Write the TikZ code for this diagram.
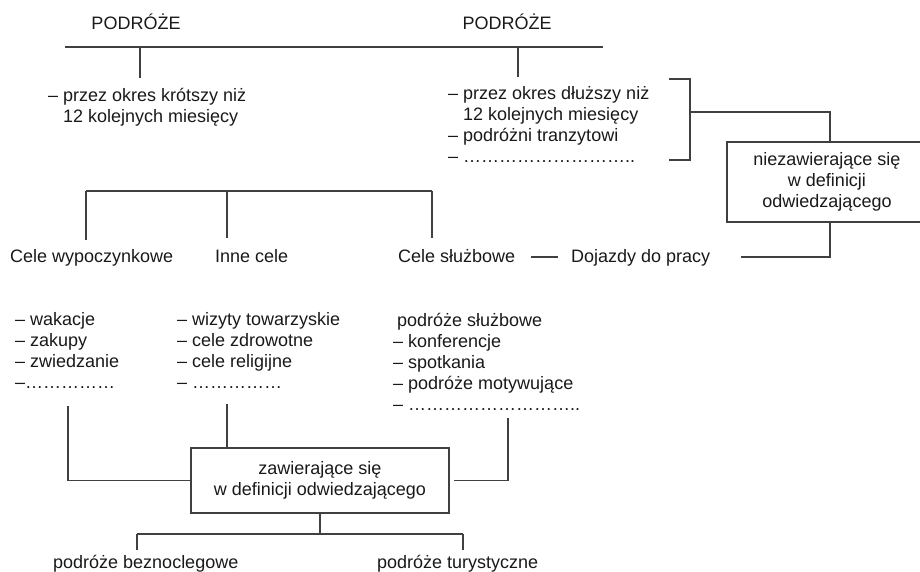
\documentclass[tikz,border=0pt]{standalone}
\usepackage{fontspec}
\setmainfont{Liberation Sans}
\begin{document}
\begin{tikzpicture}[x=1pt, y=-1pt]
                \tikzset{txt/.style={inner sep=0pt, text=black!90, font=\fontsize{18}{21}\selectfont}}
                \tikzset{lst/.style={txt, align=left, anchor=north west}}
                \tikzset{frame/.style={txt, draw=black!75, line width=1.1pt, align=center}}
                \tikzset{line/.style={draw=black!75, line width=1.1pt}}
                \useasboundingbox (0, 0) rectangle (920, 572);
                \node[txt] (podL) at (136, 22) {PODRÓŻE};
                \node[txt] (podR) at (507, 22) {PODRÓŻE};
                \coordinate (topA) at (65, 47);
                \coordinate (topB) at (603, 47);
                \coordinate (kL) at (140, 47);
                \coordinate (kR) at (518, 47);
                \node[lst] (krotszy) at (48, 88.5) {– przez okres krótszy niż\\\phantom{– }12 kolejnych miesięcy};
                \node[lst] (dluzszy) at (448, 86.5) {– przez okres dłuższy niż\\\phantom{– }12 kolejnych miesięcy\\– podróżni tranzytowi\\– ………………………..};
                \draw[line] (topA) -- (topB);
                \draw[line, shorten >=10pt] (kL) -- (kL |- krotszy.north);
                \draw[line, shorten >=9pt] (kR) -- (kR |- dluzszy.north);
                \coordinate (bT) at (669, 79);
                \coordinate (bB) at (669, 160);
                \coordinate (bM) at (690, 112);
                \draw[line] (bT) -| (bM) |- (bB);
                \node[frame, minimum width=210pt, minimum height=80pt] (nie) at (832, 182) {\hspace{-10pt}niezawierające się\\\hspace{-10pt}w definicji\\\hspace{-10pt}odwiedzającego};
                \draw[line] (bM) -| ([xshift=-2pt]nie.north);
                \coordinate (mA) at (86, 191);
                \coordinate (mB) at (227, 191);
                \coordinate (mC) at (432, 191);
                \node[txt, anchor=base west] (wyp) at (10, 262) {Cele wypoczynkowe};
                \node[txt, anchor=base west] (inne) at (215, 262) {Inne cele};
                \node[txt, anchor=base west] (sluz) at (398, 262) {Cele służbowe};
                \node[txt, anchor=base west] (doj) at (571, 262) {Dojazdy do pracy};
                \draw[line] (mA) -- (mC);
                \draw[line, shorten >=9pt] (mA) -- (mA |- wyp.north);
                \draw[line, shorten >=11pt] (mB) -- (mB |- inne.north);
                \draw[line, shorten >=11pt] (mC) -- (mC |- sluz.north);
                \draw[line, shorten <=16pt, shorten >=13pt] ([yshift=5pt]sluz.base east) -- ([yshift=5pt]doj.base west);
                \coordinate (dE) at (741, 257);
                \draw[line] ([xshift=-2pt]nie.south) |- (dE);
                \node[lst] (wypL) at (15, 312.5) {– wakacje\\– zakupy\\– zwiedzanie\\–……………};
                \node[lst] (inneL) at (177, 312.5) {– wizyty towarzyskie\\– cele zdrowotne\\– cele religijne\\– ……………};
                \node[lst] (sluzL) at (393, 313.5) {\hspace{4pt}podróże służbowe\\– konferencje\\– spotkania\\– podróże motywujące\\– ………………………..};
                \node[frame, minimum width=258pt, minimum height=65pt] (zaw) at (320, 480.5) {zawierające się\\w definicji odwiedzającego};
                \coordinate (zL) at (68, 406);
                \coordinate (zM) at (227, 404);
                \coordinate (zR) at (508, 418);
                \draw[line] (zL) |- (zaw.west);
                \draw[line] (zM) -- (zM |- zaw.north);
                \draw[line, shorten >=4pt] (zR) |- (zaw.east);
                \coordinate (jB) at (137, 534);
                \coordinate (jT) at (463, 534);
                \node[txt, anchor=base west] (bez) at (53, 568) {podróże beznoclegowe};
                \node[txt, anchor=base west] (tur) at (377, 568) {podróże turystyczne};
                \draw[line] (zaw.south) -- (zaw.south |- jB);
                \draw[line] (jB) -- (jT);
                \draw[line, shorten >=5pt] (jB) -- (jB |- bez.north);
                \draw[line, shorten >=5pt] (jT) -- (jT |- tur.north);
            \end{tikzpicture}
\end{document}
